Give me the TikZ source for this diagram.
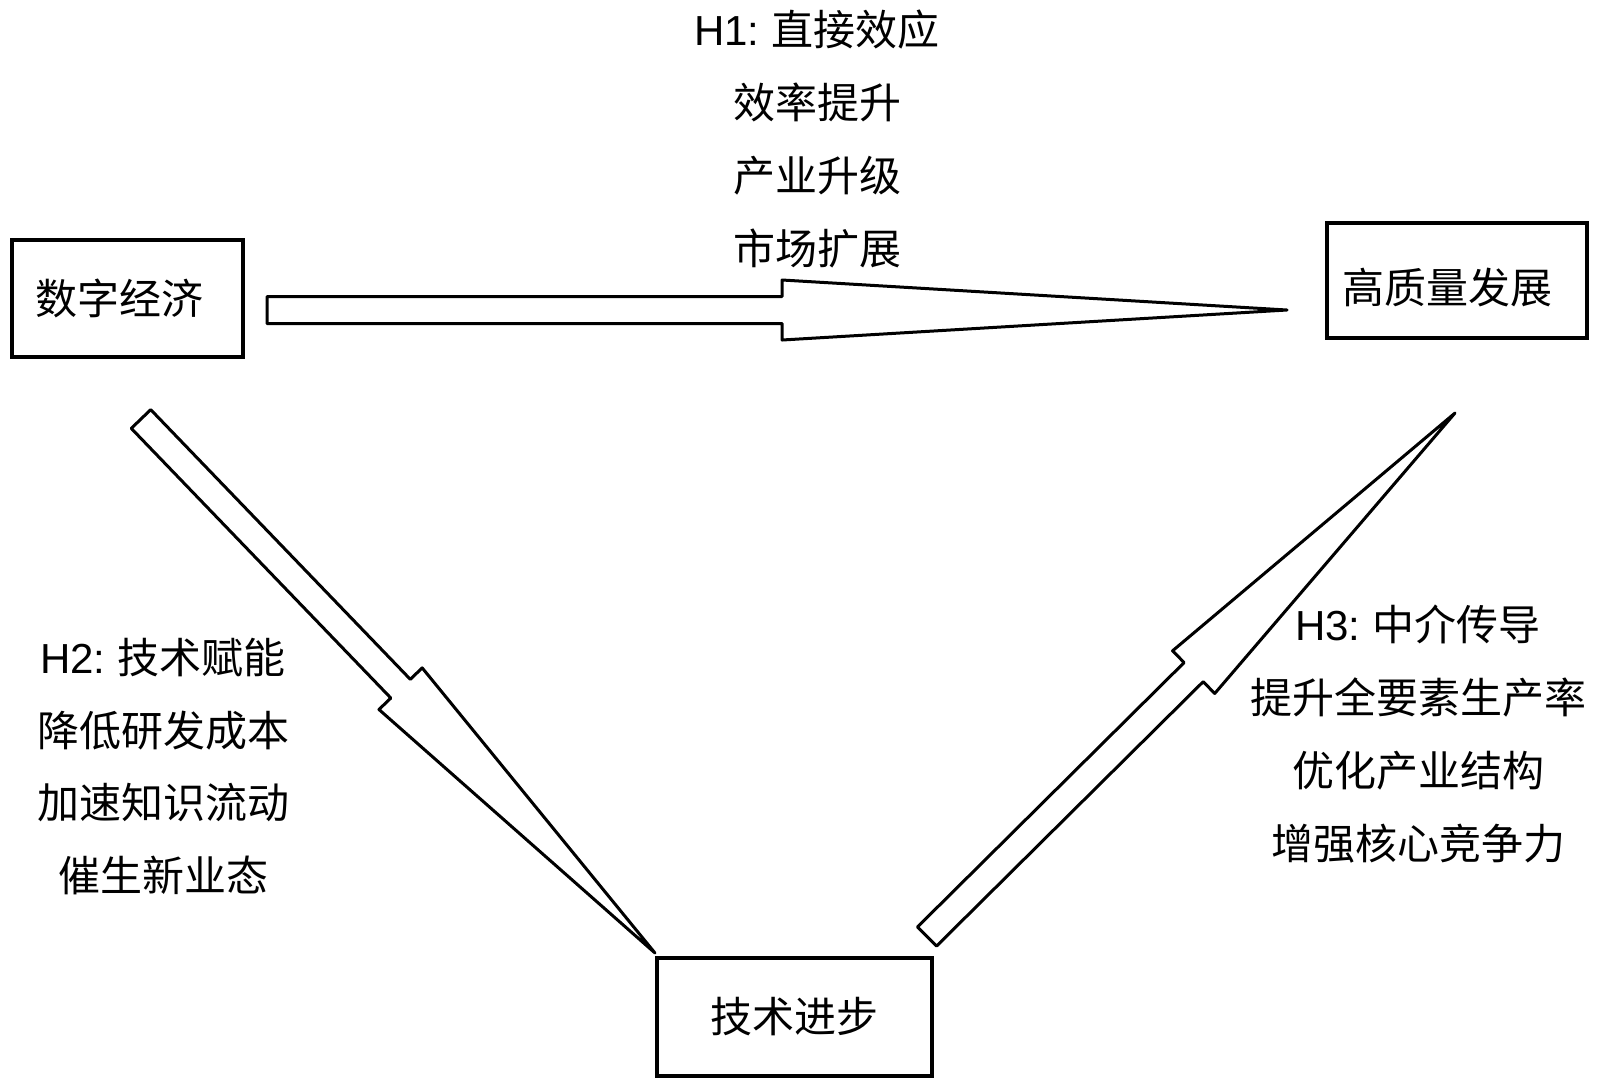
\documentclass[tikz,border=0pt]{standalone}
\usepackage{fontspec}
\setmainfont{Noto Sans CJK SC}
\newfontfamily\lat{Liberation Sans}
\usetikzlibrary{calc}
\newcommand\blockarrow[2]{%
  \draw[blockarr] ($(#1)!6.75pt!90:(#2)$) -- ($(#1)!0.505!(#2)!6.75pt!90:(#2)$)
    -- ($(#1)!0.505!(#2)!15pt!90:(#2)$) -- (#2)
    -- ($(#1)!0.505!(#2)!15pt!-90:(#2)$) -- ($(#1)!0.505!(#2)!6.75pt!-90:(#2)$)
    -- ($(#1)!6.75pt!-90:(#2)$) -- cycle;}
\begin{document}
\begin{tikzpicture}[x=0.5pt,y=-0.5pt,
  box/.style={draw, line width=1.8pt, inner sep=0pt, font=\fontsize{21pt}{25pt}\selectfont},
  txt/.style={align=center, inner sep=0pt, font=\fontsize{21pt}{36.35pt}\selectfont},
  blockarr/.style={draw, line width=1.5pt, fill=white, line join=round}]
\useasboundingbox (0,0) rectangle (1600,1089);

\node[box, minimum width=115.5pt, minimum height=58.5pt] (e1) at (127.5,298.5) {数字经济\hspace*{8.5pt}};
\node[box, minimum width=130pt, minimum height=57.5pt] (e2) at (1457,280.5) {\raisebox{-3.25pt}[18.5pt][2.5pt]{高质量发展}\hspace*{10pt}};
\node[box, minimum width=137.5pt, minimum height=59pt] (e3) at (794.5,1017) {技术进步};

\coordinate (a1s) at (267,310);
\coordinate (a1e) at (1287,310);
\coordinate (a2s) at (141,419);
\coordinate (a2e) at (655,953);
\coordinate (a3s) at (927,936.5);
\coordinate (a3e) at (1455,413);

\blockarrow{a1s}{a1e}
\blockarrow{a2s}{a2e}
\blockarrow{a3s}{a3e}

\node[txt] (t1) at (817,139) {{\lat H1:} 直接效应\\效率提升\\产业升级\\市场扩展};
\node[txt] (t2) at (163,766.5) {{\lat H2:} 技术赋能\\降低研发成本\\加速知识流动\\催生新业态};
\node[txt] (t3) at (1418,734) {{\lat H3:} 中介传导\\提升全要素生产率\\优化产业结构\\增强核心竞争力};
\end{tikzpicture}
\end{document}
